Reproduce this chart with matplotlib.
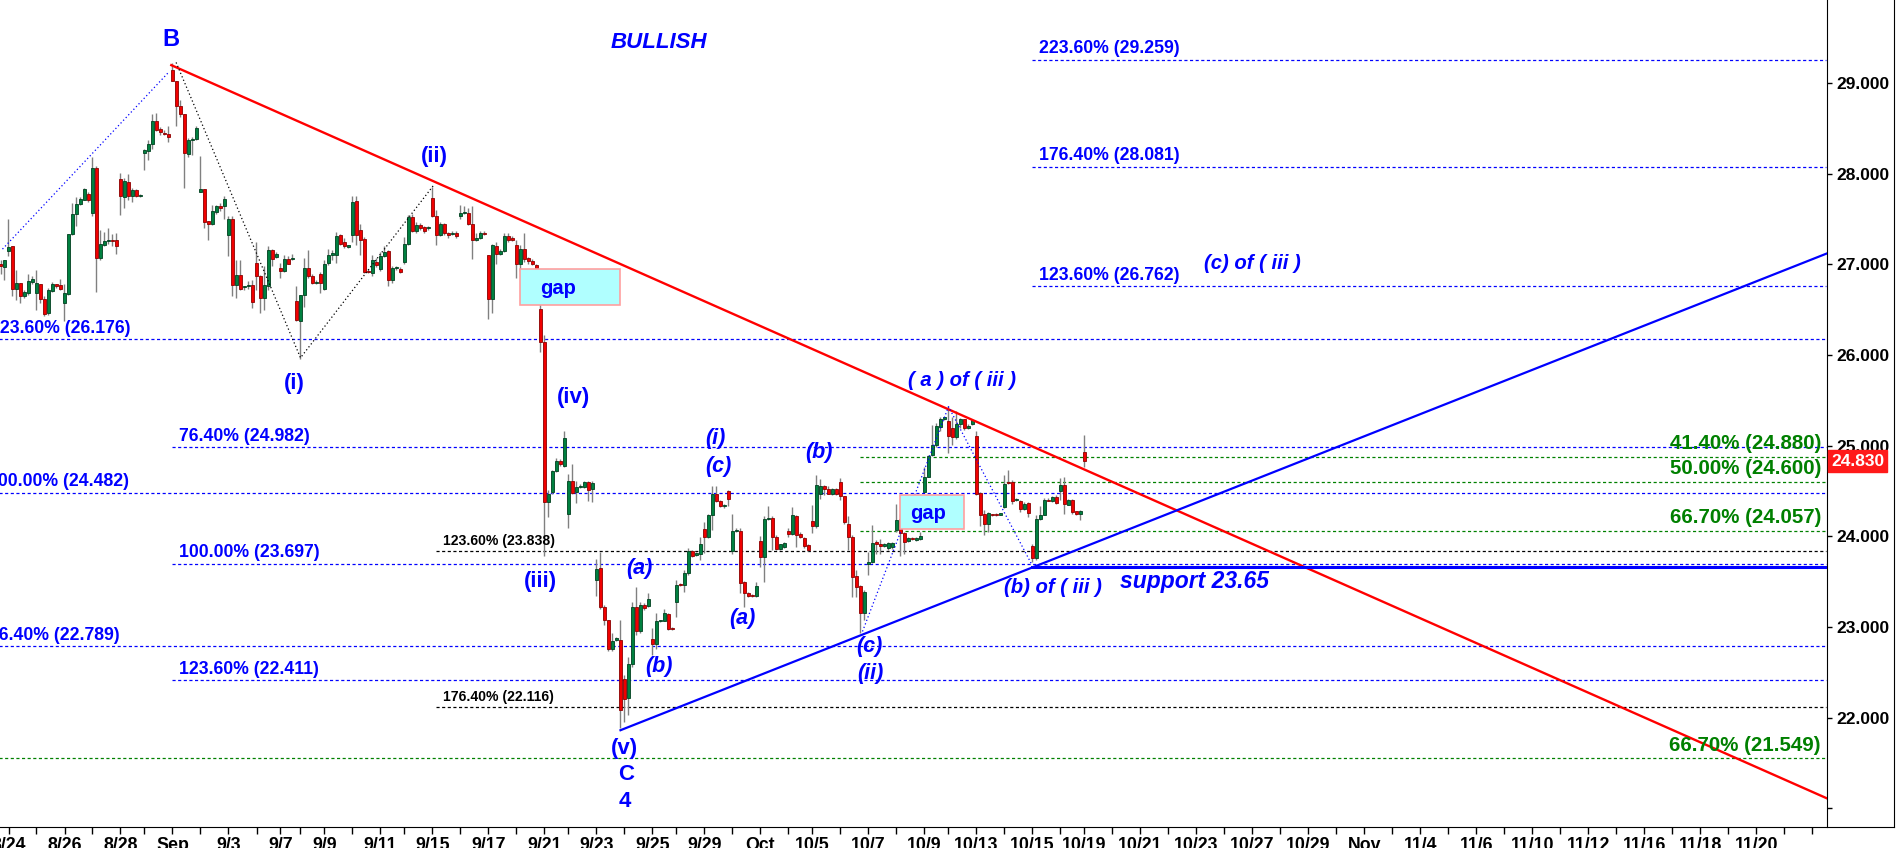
import matplotlib
matplotlib.use("Agg")
import matplotlib.pyplot as plt
from matplotlib.lines import Line2D
from matplotlib.patches import Rectangle
from matplotlib.transforms import blended_transform_factory

# one bar per slot, weekends removed (slot 0 = 8/21 evening)
opens = [
    27.01, 26.97, 27.15, 27.20, 26.73, 26.80, 26.65, 26.68, 26.81, 26.68,
    26.79, 26.62, 26.46, 26.71, 26.78, 26.77, 26.57, 26.67, 27.34, 27.56,
    27.67, 27.71, 27.78, 27.57, 28.07, 27.07, 27.22, 27.26, 27.27, 27.27,
    27.94, 27.75, 27.91, 27.76, 27.82, 27.76, 28.23, 28.25, 28.33, 28.58,
    28.50, 28.45, 28.44, 29.15, 29.03, 28.75, 28.66, 28.22, 28.37, 28.39,
    27.80, 27.83, 27.48, 27.45, 27.58, 27.65, 27.64, 27.32, 27.50, 26.77,
    26.88, 26.75, 26.76, 26.77, 27.02, 26.87, 26.63, 26.76, 27.16, 27.08,
    26.96, 26.93, 27.06, 27.06, 26.60, 26.38, 26.66, 26.96, 26.87, 26.80,
    26.90, 26.73, 27.02, 27.11, 27.10, 27.32, 27.25, 27.19, 27.33, 27.70,
    27.38, 27.28, 26.93, 26.91, 27.03, 26.95, 27.09, 27.15, 26.83, 26.96,
    26.95, 27.03, 27.23, 27.52, 27.37, 27.44, 27.41, 27.40, 27.73, 27.54,
    27.33, 27.45, 27.35, 27.34, 27.35, 27.53, 27.57, 27.57, 27.45, 27.27,
    27.29, 27.35, 27.10, 26.62, 27.20, 27.12, 27.15, 27.31, 27.29, 27.21,
    27.01, 27.17, 27.07, 27.04, 26.99, 26.51, 26.14, 24.38, 24.49, 24.72,
    24.83, 24.78, 24.25, 24.61, 24.49, 24.54, 24.54, 24.60, 24.52, 23.52,
    23.65, 23.22, 23.08, 22.76, 22.86, 22.86, 22.42, 22.22, 22.59, 23.22,
    22.96, 23.24, 23.23, 22.87, 22.81, 23.06, 23.07, 23.14, 22.99, 23.28,
    23.47, 23.46, 23.59, 23.84, 23.79, 23.80, 24.08, 23.99, 24.23, 24.47,
    24.39, 24.33, 24.50, 23.84, 24.06, 24.06, 23.50, 23.37, 23.35, 23.34,
    23.95, 23.77, 24.19, 24.20, 23.99, 23.86, 23.88, 24.06, 24.02, 24.22,
    24.03, 23.98, 23.90, 24.17, 24.11, 24.47, 24.56, 24.52, 24.47, 24.52,
    24.60, 24.44, 24.14, 23.99, 23.56, 23.45, 23.15, 23.69, 23.72, 23.93,
    23.92, 23.89, 23.87, 23.88, 24.07, 24.19, 24.04, 23.95, 23.98, 23.96,
    23.97, 24.49, 24.66, 24.90, 25.01, 25.21, 25.30, 25.27, 25.19, 25.10,
    25.24, 25.29, 25.19, 25.24, 25.11, 24.48, 24.25, 24.14, 24.24, 24.25,
    24.24, 24.32, 24.60, 24.60, 24.40, 24.39, 24.30, 24.37, 23.89, 23.76,
    24.19, 24.24, 24.40, 24.39, 24.43, 24.50, 24.57, 24.35, 24.40, 24.28,
    24.25, 24.93,
]
highs = [
    27.05, 27.05, 27.50, 27.20, 26.94, 26.80, 26.72, 26.90, 26.87, 26.94,
    26.79, 26.65, 26.74, 26.81, 26.79, 26.84, 26.79, 27.34, 27.68, 27.75,
    27.75, 27.84, 27.80, 28.19, 28.09, 27.38, 27.36, 27.40, 27.34, 27.35,
    28.01, 27.95, 28.00, 27.84, 27.83, 27.78, 28.28, 28.37, 28.66, 28.67,
    28.52, 28.48, 28.53, 29.22, 29.03, 28.82, 28.66, 28.40, 28.41, 28.53,
    28.20, 27.83, 27.48, 27.66, 27.66, 27.68, 27.76, 27.53, 27.53, 27.05,
    27.05, 26.76, 26.82, 26.83, 27.25, 26.88, 26.98, 27.20, 27.17, 27.14,
    27.02, 27.10, 27.09, 27.12, 26.76, 26.66, 27.07, 27.16, 26.90, 26.83,
    26.92, 27.05, 27.17, 27.16, 27.36, 27.34, 27.29, 27.22, 27.76, 27.76,
    27.45, 27.30, 26.95, 27.10, 27.07, 27.14, 27.20, 27.16, 26.98, 26.98,
    26.97, 27.30, 27.55, 27.56, 27.47, 27.46, 27.43, 27.42, 27.86, 27.60,
    27.47, 27.46, 27.36, 27.37, 27.37, 27.66, 27.64, 27.62, 27.65, 27.35,
    27.37, 27.37, 27.11, 27.23, 27.25, 27.17, 27.35, 27.35, 27.31, 27.27,
    27.21, 27.35, 27.08, 27.06, 27.00, 26.58, 26.22, 24.51, 24.73, 24.86,
    24.85, 25.16, 24.69, 24.80, 24.61, 24.58, 24.61, 24.61, 24.61, 23.75,
    23.83, 23.24, 23.08, 22.93, 22.89, 23.08, 22.47, 22.67, 23.28, 23.44,
    23.28, 23.26, 23.37, 22.99, 23.15, 23.08, 23.20, 23.15, 23.00, 23.52,
    23.48, 23.63, 23.87, 23.85, 23.83, 23.99, 24.16, 24.25, 24.55, 24.55,
    24.40, 24.36, 24.51, 24.25, 24.09, 24.09, 23.51, 23.38, 23.36, 23.50,
    24.00, 24.22, 24.33, 24.22, 24.01, 23.92, 23.94, 24.09, 24.32, 24.23,
    24.05, 23.99, 23.92, 24.34, 24.68, 24.63, 24.57, 24.55, 24.53, 24.53,
    24.64, 24.44, 24.22, 24.01, 23.63, 23.46, 23.41, 23.83, 24.12, 23.96,
    23.97, 23.93, 23.94, 23.94, 24.36, 24.25, 24.05, 23.99, 23.99, 23.99,
    24.05, 24.77, 24.90, 25.23, 25.25, 25.32, 25.32, 25.44, 25.32, 25.38,
    25.31, 25.30, 25.24, 25.29, 25.16, 24.49, 24.29, 24.27, 24.25, 24.26,
    24.26, 24.68, 24.73, 24.62, 24.42, 24.40, 24.38, 24.38, 23.92, 24.24,
    24.33, 24.42, 24.42, 24.44, 24.46, 24.64, 24.66, 24.41, 24.41, 24.28,
    24.29, 25.12,
]
lows = [
    26.90, 26.83, 27.09, 26.65, 26.61, 26.57, 26.63, 26.66, 26.79, 26.50,
    26.57, 26.43, 26.44, 26.70, 26.74, 26.72, 26.38, 26.66, 27.33, 27.42,
    27.66, 27.71, 27.69, 27.53, 26.70, 27.05, 27.20, 27.23, 27.20, 27.12,
    27.55, 27.62, 27.71, 27.69, 27.75, 27.74, 28.04, 28.15, 28.28, 28.47,
    28.43, 28.43, 28.35, 29.02, 28.53, 28.63, 27.84, 28.19, 28.21, 28.37,
    27.80, 27.40, 27.27, 27.44, 27.56, 27.59, 27.50, 27.09, 26.65, 26.63,
    26.72, 26.72, 26.73, 26.52, 26.72, 26.46, 26.50, 26.72, 26.98, 27.07,
    26.85, 26.92, 27.00, 27.05, 26.38, 25.96, 26.53, 26.85, 26.78, 26.79,
    26.68, 26.72, 26.99, 27.05, 27.02, 27.22, 27.18, 27.18, 27.25, 27.22,
    27.10, 26.91, 26.91, 26.87, 26.97, 26.93, 27.08, 26.76, 26.80, 26.94,
    26.91, 27.01, 27.22, 27.36, 27.35, 27.38, 27.35, 27.38, 27.52, 27.21,
    27.31, 27.33, 27.29, 27.33, 27.29, 27.50, 27.56, 27.44, 27.06, 27.26,
    27.28, 27.33, 26.40, 26.46, 27.01, 27.10, 27.14, 27.25, 27.26, 26.85,
    26.93, 27.03, 27.01, 26.99, 26.95, 26.03, 23.78, 24.21, 24.47, 24.71,
    24.78, 24.77, 24.09, 24.47, 24.37, 24.53, 24.53, 24.39, 24.38, 23.34,
    23.20, 23.02, 22.73, 22.73, 22.85, 21.88, 21.95, 22.03, 22.56, 22.91,
    22.93, 23.19, 23.22, 22.69, 22.76, 23.05, 23.06, 22.97, 22.97, 23.11,
    23.45, 23.39, 23.57, 23.77, 23.78, 23.74, 23.82, 23.98, 24.07, 24.38,
    24.32, 24.31, 24.33, 23.81, 24.05, 23.37, 23.22, 23.33, 23.33, 23.33,
    23.66, 23.50, 24.18, 23.85, 23.85, 23.85, 23.87, 23.99, 24.01, 23.88,
    23.98, 23.87, 23.84, 24.04, 24.09, 24.41, 24.46, 24.47, 24.46, 24.46,
    24.40, 24.14, 23.85, 23.33, 23.33, 22.93, 23.08, 23.57, 23.71, 23.81,
    23.80, 23.88, 23.85, 23.86, 24.05, 23.78, 23.80, 23.94, 23.96, 23.95,
    23.96, 24.49, 24.66, 24.89, 24.99, 25.16, 25.28, 24.92, 25.01, 25.07,
    25.20, 25.17, 25.18, 25.23, 24.46, 24.11, 24.01, 24.05, 24.22, 24.22,
    24.23, 24.31, 24.58, 24.36, 24.39, 24.27, 24.29, 24.21, 23.72, 23.74,
    24.18, 24.23, 24.39, 24.38, 24.36, 24.40, 24.25, 24.34, 24.25, 24.24,
    24.18, 24.77,
]
closes = [
    26.98, 27.05, 27.19, 26.73, 26.80, 26.65, 26.70, 26.82, 26.84, 26.80,
    26.62, 26.45, 26.72, 26.79, 26.76, 26.73, 26.69, 27.34, 27.56, 27.67,
    27.72, 27.83, 27.71, 28.07, 27.07, 27.23, 27.26, 27.27, 27.26, 27.20,
    27.76, 27.92, 27.76, 27.82, 27.76, 27.77, 28.26, 28.33, 28.58, 28.48,
    28.46, 28.44, 28.41, 29.03, 28.75, 28.66, 28.23, 28.37, 28.38, 28.51,
    27.83, 27.47, 27.45, 27.59, 27.65, 27.62, 27.72, 27.50, 26.77, 26.88,
    26.73, 26.75, 26.76, 26.59, 26.87, 26.63, 26.77, 27.16, 27.06, 27.12,
    26.93, 27.06, 27.01, 27.07, 26.39, 26.66, 26.96, 26.87, 26.80, 26.81,
    26.80, 27.01, 27.10, 27.12, 27.31, 27.23, 27.20, 27.21, 27.69, 27.33,
    27.27, 26.92, 26.92, 27.05, 26.99, 27.09, 27.14, 26.83, 26.96, 26.96,
    26.92, 27.23, 27.52, 27.37, 27.44, 27.40, 27.37, 27.41, 27.54, 27.33,
    27.45, 27.35, 27.33, 27.35, 27.31, 27.57, 27.58, 27.45, 27.27, 27.29,
    27.35, 27.34, 26.62, 27.21, 27.12, 27.15, 27.31, 27.27, 27.27, 27.00,
    27.17, 27.06, 27.04, 27.00, 26.96, 26.14, 24.38, 24.47, 24.72, 24.83,
    24.80, 25.09, 24.61, 24.48, 24.54, 24.56, 24.60, 24.51, 24.59, 23.64,
    23.22, 23.08, 22.76, 22.85, 22.88, 22.08, 22.20, 22.59, 23.22, 22.96,
    23.24, 23.21, 23.31, 22.81, 23.06, 23.07, 23.15, 22.98, 22.98, 23.46,
    23.46, 23.59, 23.84, 23.78, 23.82, 23.91, 23.99, 24.23, 24.47, 24.39,
    24.33, 24.34, 24.41, 24.06, 24.07, 23.49, 23.37, 23.34, 23.34, 23.45,
    23.77, 24.19, 24.20, 23.99, 23.86, 23.91, 23.93, 24.02, 24.23, 24.01,
    23.99, 23.89, 23.85, 24.11, 24.57, 24.55, 24.52, 24.47, 24.52, 24.47,
    24.44, 24.16, 23.99, 23.55, 23.44, 23.15, 23.39, 23.72, 23.93, 23.92,
    23.89, 23.92, 23.93, 23.93, 24.18, 24.04, 23.94, 23.98, 23.97, 23.98,
    24.00, 24.66, 24.89, 25.01, 25.22, 25.29, 25.31, 25.11, 25.10, 25.24,
    25.29, 25.20, 25.22, 25.28, 24.47, 24.24, 24.14, 24.26, 24.23, 24.23,
    24.25, 24.58, 24.59, 24.39, 24.41, 24.30, 24.36, 24.26, 23.76, 24.19,
    24.24, 24.40, 24.39, 24.43, 24.37, 24.57, 24.36, 24.40, 24.27, 24.25,
    24.28, 24.83,
]

# daily ticks (slot of each session start), labels every other day
day_ticks = [2, 9, 16, 23, 30, 36, 43, 50, 57, 64, 70, 75, 81, 88, 95, 101, 108, 115,
             122, 129, 136, 142, 149, 156, 163, 169, 176, 183, 190, 197, 203, 210, 217,
             224, 231, 237, 244, 251, 258, 265, 271, 278, 285, 292, 299, 306, 313, 320,
             327, 334, 341, 348, 355, 362, 369, 376, 383, 390, 397, 404, 411, 418, 425,
             432, 439, 446, 453]
date_ticks = [2, 16, 30, 43, 57, 70, 81, 95, 108, 122, 136, 149, 163, 176, 190, 203,
              217, 231, 244, 258, 271, 285, 299, 313, 327, 341, 355, 369, 383, 397,
              411, 425, 439]
date_labels = ["8/24", "8/26", "8/28", "Sep", "9/3", "9/7", "9/9", "9/11", "9/15",
               "9/17", "9/21", "9/23", "9/25", "9/29", "Oct", "10/5", "10/7", "10/9",
               "10/13", "10/15", "10/19", "10/21", "10/23", "10/27", "10/29", "Nov",
               "11/4", "11/6", "11/10", "11/12", "11/16", "11/18", "11/20"]
price_ticks = [21, 22, 23, 24, 25, 26, 27, 28, 29]
last_price = 24.830

blue_levels = [29.259, 28.081, 26.762, 26.176, 24.982, 24.482, 23.697, 22.789, 22.411]
blue_pcts = ["223.60%", "176.40%", "123.60%", "123.60%", "76.40%", "100.00%",
             "100.00%", "76.40%", "123.60%"]
black_levels = [23.838, 22.116]
black_pcts = ["123.60%", "176.40%"]
green_levels = [24.880, 24.600, 24.057, 21.549]
green_pcts = ["41.40%", "50.00%", "66.70%", "66.70%"]
support_level = 23.665

# trend lines and wave paths (slot, price)
red_trend = ([42.7, 456.5], [29.20, 21.11])
blue_trend = ([155.0, 456.5], [21.86, 27.12])
wave_b_path = ([43.9, 75.0, 108.2], [29.23, 25.97, 27.87])
wave_a_path = ([0.5, 42.0], [27.17, 29.12])
wave_iii_path = ([215.5, 237.0, 257.8], [22.95, 25.43, 23.69])

BLUE = "#0000ff"
GREEN = "#008000"
RED = "#ff0000"
XMAX = 456.5

plt.rcParams["font.family"] = ["Liberation Sans", "DejaVu Sans"]

W, H = 1897, 848
fig = plt.figure(figsize=(W / 100, H / 100), dpi=100)
ax = fig.add_axes([0, 21.3 / H, 1826.5 / W, 826.7 / H])
ax.set_xlim(-0.125, XMAX)
ax.set_ylim(20.795, 29.919)

# candles
xs = list(range(len(opens)))
ax.vlines(xs, lows, highs, color="#808080", lw=1, zorder=3)
bottoms = [min(o, c) for o, c in zip(opens, closes)]
heights = [max(abs(c - o), 0.012) for o, c in zip(opens, closes)]
face = ["#008040" if c >= o else "#f00000" for o, c in zip(opens, closes)]
edge = ["#00401f" if c >= o else "#8c0000" for o, c in zip(opens, closes)]
ax.bar(xs, heights, bottom=bottoms, width=0.66, color=face, edgecolor=edge,
       lw=0.6, zorder=4)


def level_line(y, x0, color):
    ax.plot([x0, XMAX], [y, y], color=color, lw=0.9, ls=(0, (2.5, 2)), zorder=2)


def level_text(x, y, text, color, size, ha="left"):
    ax.text(x, y, text, color=color, fontsize=size, fontweight="bold", ha=ha,
            va="center", clip_on=True, zorder=6)


blue_start = [257.9, 257.9, 257.9, -1, 42.9, -1, 42.9, -1, 42.9]
blue_lab_x = [259.6, 259.6, 259.6, -2.6, 44.6, -3.1, 44.6, -2.9, 44.6]
for lvl, pct, x0, lx in zip(blue_levels, blue_pcts, blue_start, blue_lab_x):
    level_line(lvl, x0, BLUE)
    level_text(lx, lvl + 0.121, f"{pct} ({lvl:.3f})", BLUE, 12.7)

for lvl, pct in zip(black_levels, black_pcts):
    level_line(lvl, 108.9, "black")
    level_text(110.6, lvl + 0.11, f"{pct} ({lvl:.3f})", "black", 10.1)

green_start = [214.8, 214.8, 214.8, -1]
for lvl, pct, x0 in zip(green_levels, green_pcts, green_start):
    level_line(lvl, x0, GREEN)
    level_text(455.1, lvl + 0.147, f"{pct} ({lvl:.3f})", GREEN, 14.8, ha="right")

# trend lines, support and wave paths
ax.plot(*red_trend, color=RED, lw=1.7, zorder=5)
ax.plot(*blue_trend, color=BLUE, lw=1.6, zorder=5)
ax.plot([wave_iii_path[0][2], XMAX], [support_level] * 2, color=BLUE, lw=2.2, zorder=5)
ax.plot(*wave_b_path, color="black", lw=0.9, ls=(0, (1, 2)), zorder=5)
ax.plot(*wave_a_path, color=BLUE, lw=0.9, ls=(0, (1, 2)), zorder=5)
ax.plot(*wave_iii_path, color=BLUE, lw=0.9, ls=(0, (1, 2)), zorder=5)

# gap boxes
for x0, y0, w, h, tx, ty in [(130, 26.553, 25, 0.394, 139.4, 26.74),
                              (224.9, 24.077, 16.1, 0.379, 232.0, 24.257)]:
    ax.add_patch(Rectangle((x0, y0), w, h, fc="#b0ffff", ec="#ff9f9f", lw=1.2, zorder=6))
    ax.text(tx, ty, "gap", color=BLUE, fontsize=14.5, fontweight="bold",
            ha="center", va="center", zorder=7)


def wave(x, y, s, size=16, italic=False, ha="center"):
    ax.text(x, y, s, color=BLUE, fontsize=size, fontweight="bold",
            fontstyle="italic" if italic else "normal", ha=ha, va="center", zorder=7)


wave(42.7, 29.478, "B", 17)
wave(164.6, 29.445, "BULLISH", 16, italic=True)
wave(108.4, 28.187, "(ii)")
wave(73.4, 25.69, "(i)")
wave(143.25, 25.53, "(iv)")
wave(135.1, 23.50, "(iii)")
wave(156.0, 21.66, "(v)")
wave(156.5, 21.37, "C", 16)
wave(156.0, 21.07, "4", 16)
wave(178.6, 25.074, "(i)", 15.5, italic=True)
wave(179.5, 24.77, "(c)", 15.5, italic=True)
wave(204.6, 24.92, "(b)", 15.5, italic=True)
wave(159.6, 23.647, "(a)", 15.5, italic=True)
wave(185.4, 23.098, "(a)", 15.5, italic=True)
wave(164.6, 22.56, "(b)", 15.5, italic=True)
wave(217.2, 22.78, "(c)", 15.5, italic=True)
wave(217.4, 22.49, "(ii)", 15.5, italic=True)
wave(240.4, 25.725, "( a ) of ( iii )", 14.6, italic=True)
wave(263.1, 23.43, "(b) of ( iii )", 14.6, italic=True)
wave(312.9, 27.013, "(c) of ( iii )", 14.6, italic=True)
wave(279.9, 23.50, "support 23.65", 16.5, italic=True, ha="left")

# axes
ax.set_xticks(date_ticks)
ax.set_xticklabels(date_labels, fontsize=12.8, fontweight="bold")
ax.set_xticks(day_ticks, minor=True)
ax.tick_params(axis="x", which="both", direction="out", length=5.3, width=1, pad=2)
ax.yaxis.tick_right()
ax.set_yticks(price_ticks)
ax.set_yticklabels(["" if p == 21 else f"{p:.3f}" for p in price_ticks],
                   fontsize=12.5, fontweight="bold")
ax.tick_params(axis="y", direction="out", length=3.6, width=1, pad=3.6)
for side in ("left", "top"):
    ax.spines[side].set_visible(False)

trans = blended_transform_factory(ax.transAxes, ax.transData)
ax.text(1.0025, last_price, f"{last_price:.3f}", transform=trans, color="white",
        fontsize=12.5, fontweight="bold", ha="left", va="center", clip_on=False,
        bbox=dict(boxstyle="square,pad=0.18", fc="#ff1a1a", ec="#ff1a1a"), zorder=8)

fig.add_artist(Line2D([1894 / W] * 2, [21.3 / H, 1], color="black", lw=0.8))
fig.add_artist(Line2D([1826.5 / W, 1894 / W], [21.3 / H] * 2, color="black", lw=0.8))

fig.savefig("out.png", dpi=100)
plt.close(fig)
